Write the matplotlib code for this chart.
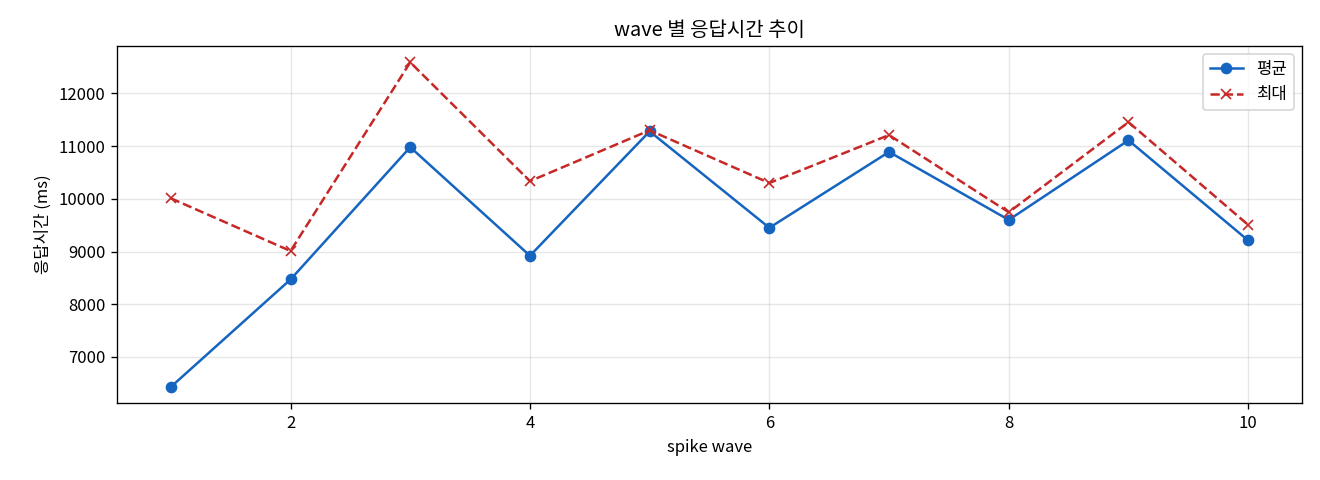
import matplotlib
matplotlib.use('Agg')
import matplotlib.pyplot as plt

plt.rcParams['font.family'] = ['Noto Sans CJK KR', 'DejaVu Sans']
plt.rcParams['axes.unicode_minus'] = False

# data
waves = [1, 2, 3, 4, 5, 6, 7, 8, 9, 10]
avg_ms = [6430, 8470, 10980, 8920, 11280, 9450, 10890, 9600, 11110, 9210]
max_ms = [10010, 9010, 12590, 10335, 11300, 10300, 11210, 9745, 11455, 9505]

fig, ax = plt.subplots(figsize=(11, 4), dpi=120)

ax.plot(waves, avg_ms, marker='o', color='#1565C0', label='평균')
ax.plot(waves, max_ms, marker='x', linestyle='--', color='#C62828', label='최대')

ax.set_title('wave 별 응답시간 추이')
ax.set_xlabel('spike wave')
ax.set_ylabel('응답시간 (ms)')
ax.grid(True, alpha=0.3)
ax.legend()

plt.subplots_adjust(left=0.0886, right=0.9864, top=0.904, bottom=0.160)
plt.savefig('out.png', dpi=120)
